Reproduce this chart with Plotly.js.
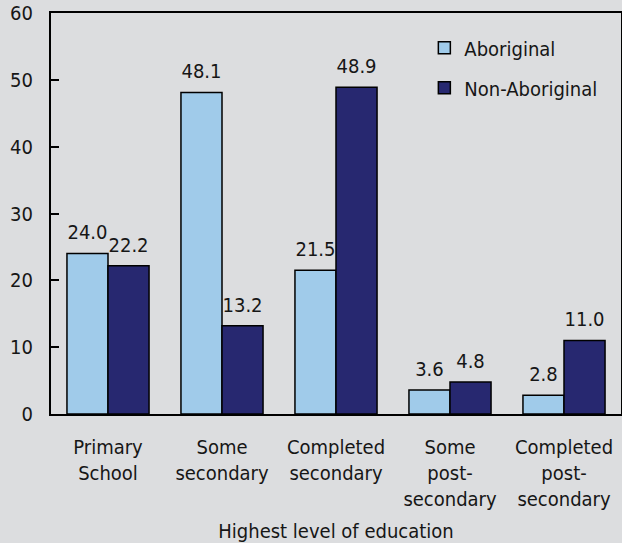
<!DOCTYPE html>
<html>
<head>
<meta charset="utf-8">
<script src="https://cdn.plot.ly/plotly-3.0.1.min.js"></script>
<style>html,body{margin:0;padding:0;background:#dcdddf;}#chart{width:622px;height:543px;}</style>
</head>
<body>
<div id="chart"></div>
<script>
const categories = ["Primary<br>School", "Some<br>secondary", "Completed<br>secondary", "Some<br>post-<br>secondary", "Completed<br>post-<br>secondary"];
const aboriginal = [24.0, 48.1, 21.5, 3.6, 2.8];
const nonAboriginal = [22.2, 13.2, 48.9, 4.8, 11.0];
const seriesNames = ["Aboriginal", "Non-Aboriginal"];
const yTicks = [0, 10, 20, 30, 40, 50, 60];

const FONT = "'DejaVu Sans Condensed', 'Liberation Sans Narrow', sans-serif";
const FS = 20;
const TXT = '#161616';
const GAP = 0.28;

const bar = (name, y, color, grp) => ({
  type: 'bar', name: name, x: categories, y: y,
  legendgroup: grp, offsetgroup: grp,
  marker: {color: color, line: {color: '#000', width: 1.5}},
  hoverinfo: 'none'
});
// value labels: invisible markers grouped like the bars, text above
const lbl = (y, grp) => ({
  type: 'scatter', mode: 'markers+text', x: categories, y: y,
  legendgroup: grp, offsetgroup: grp, showlegend: false,
  marker: {size: 13, opacity: 0},
  text: y.map(v => v.toFixed(1)), textposition: 'top center',
  textfont: {family: FONT, size: FS, color: TXT},
  cliponaxis: false, hoverinfo: 'none'
});

const data = [
  bar(seriesNames[0], aboriginal, '#a0cbea', 'a'),
  bar(seriesNames[1], nonAboriginal, '#272870', 'b'),
  lbl(aboriginal, 'a'),
  lbl(nonAboriginal, 'b')
];

const layout = {
  width: 622, height: 543,
  paper_bgcolor: '#dcdddf', plot_bgcolor: '#dcdddf',
  margin: {l: 51, r: 1, t: 13, b: 129},
  font: {family: FONT, size: FS, color: TXT},
  barmode: 'group', bargap: GAP, bargroupgap: 0,
  scattermode: 'group', scattergap: GAP,
  showlegend: true,
  legend: {x: 0.655, y: 0.962, xanchor: 'left', yanchor: 'top', bgcolor: 'rgba(0,0,0,0)',
           font: {family: FONT, size: FS, color: TXT}, traceorder: 'grouped', tracegroupgap: 11},
  xaxis: {
    showline: true, mirror: true, linecolor: '#000', linewidth: 2,
    ticks: '', ticklabelstandoff: 14, tickfont: {family: FONT, size: FS, color: TXT},
    title: {text: 'Highest level of education', font: {family: FONT, size: FS, color: TXT}, standoff: 15},
    fixedrange: true
  },
  yaxis: {
    range: [0, 60], tickvals: yTicks, ticktext: yTicks.map(String),
    showline: true, mirror: true, linecolor: '#000', linewidth: 2,
    ticks: 'inside', ticklen: 8, tickwidth: 2, tickcolor: '#000',
    ticklabelstandoff: 12,
    showgrid: false, zeroline: false,
    tickfont: {family: FONT, size: FS, color: TXT},
    fixedrange: true
  }
};

Plotly.newPlot('chart', data, layout, {displayModeBar: false, staticPlot: true});
</script>
</body>
</html>
